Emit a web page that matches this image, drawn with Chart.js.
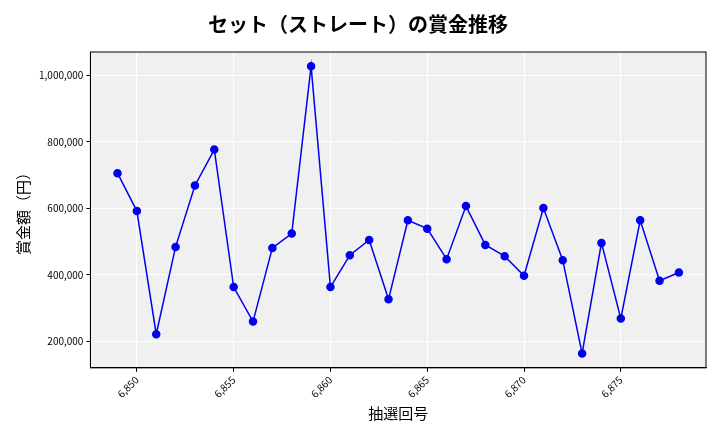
<!DOCTYPE html>
<html lang="ja">
<head>
<meta charset="UTF-8">
<title>賞金推移</title>
<style>body{margin:0;background:#fff}#wrap{width:720px;height:432px}</style>
</head>
<body>
<div id="wrap"><canvas id="grafico1"></canvas></div>
<script src="https://cdn.jsdelivr.net/npm/chart.js"></script>
<script>
const rounds = [6849,6850,6851,6852,6853,6854,6855,6856,6857,6858,6859,6860,6861,6862,6863,6864,6865,6866,6867,6868,6869,6870,6871,6872,6873,6874,6875,6876,6877,6878]
const prizes = [706000,592000,221000,484000,669000,777000,363000,259000,481000,524000,1028000,363000,459000,505000,326000,564000,539000,447000,607000,490000,456000,397000,601000,444000,163000,496000,268000,564000,382000,407000]

const fontName = "'Noto Sans CJK JP', sans-serif"

const plotBg = {
  id: 'plotBg',
  beforeDraw(chart) {
    const {ctx, chartArea: a} = chart
    ctx.save()
    ctx.fillStyle = '#f0f0f0'
    ctx.fillRect(a.left, a.top, a.right - a.left, a.bottom - a.top)
    ctx.restore()
  },
  afterDraw(chart) {
    const {ctx, chartArea: a} = chart
    ctx.save()
    ctx.strokeStyle = '#000'
    ctx.lineWidth = 1
    ctx.strokeRect(a.left, a.top, a.right - a.left, a.bottom - a.top)
    ctx.restore()
  }
}

new Chart(document.getElementById('grafico1'), {
  type: 'line',
  data: {
    datasets: [{
      data: rounds.map((r, i) => ({x: r, y: prizes[i]})),
      borderColor: '#0000ee',
      backgroundColor: '#0000ee',
      borderWidth: 1.5,
      pointRadius: 3.5,
      tension: 0
    }]
  },
  options: {
    responsive: true,
    maintainAspectRatio: false,
    animation: false,
    layout: {padding: {left: 10, right: 14, top: 4, bottom: 6}},
    plugins: {
      legend: {display: false},
      title: {display: true, text: 'セット（ストレート）の賞金推移', color: '#000',
        font: {family: fontName, size: 20, weight: 'bold'}, padding: {top: 8, bottom: 16}}
    },
    scales: {
      x: {
        type: 'linear', min: 6847.6, max: 6879.4,
        grid: {color: '#ffffff', lineWidth: 1, tickColor: '#000', tickLength: 4},
        border: {display: true, color: '#000'},
        ticks: {stepSize: 5, color: '#000', maxRotation: 45, minRotation: 45, padding: 2,
          font: {family: fontName, size: 10}},
        afterBuildTicks: ax => { ax.ticks = [6850,6855,6860,6865,6870,6875].map(v => ({value: v})) },
        title: {display: true, text: '抽選回号', color: '#000', font: {family: fontName, size: 15}, padding: {top: 2}}
      },
      y: {
        min: 119700, max: 1071000,
        grid: {color: '#ffffff', lineWidth: 1, tickColor: '#000', tickLength: 4},
        border: {display: true, color: '#000'},
        afterBuildTicks: ax => { ax.ticks = [200000,400000,600000,800000,1000000].map(v => ({value: v})) },
        ticks: {color: '#000', font: {family: fontName, size: 10}, callback: v => v.toLocaleString('en-US')},
        title: {display: true, text: '賞金額（円）', color: '#000', font: {family: fontName, size: 15}}
      }
    }
  },
  plugins: [plotBg]
})
</script>
</body>
</html>
